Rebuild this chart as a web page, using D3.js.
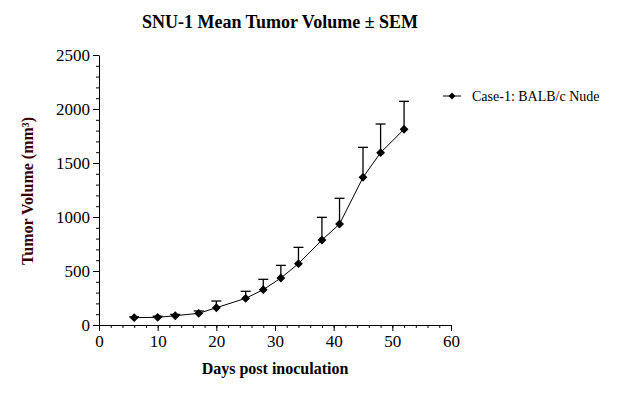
<!DOCTYPE html>
<html>
<head>
<meta charset="utf-8">
<script src="https://cdn.jsdelivr.net/npm/d3@7"></script>
<style>
  body { margin: 0; background: #fff; }
  text { font-family: "Liberation Serif", "Times New Roman", serif; }
</style>
</head>
<body>
<div id="chart"></div>
<script>
// data
var days = [6, 10, 13, 17, 20, 25, 28, 31, 34, 38, 41, 45, 48, 52];
var meanVol = [68, 71, 86, 108, 160, 247, 327, 435, 568, 787, 935, 1367, 1596, 1812];
var semVol = [8, 10, 12, 22, 62, 65, 96, 117, 151, 210, 238, 278, 265, 259];
var seriesName = 'Case-1: BALB/c Nude';
var xTicks = [0, 10, 20, 30, 40, 50, 60];
var yTicks = [0, 500, 1000, 1500, 2000, 2500];

var width = 617, height = 411;
var plot = {left: 99, right: 451, top: 55, bottom: 325};

var svg = d3.select('#chart')
    .append('svg')
    .attr('width', width)
    .attr('height', height);

var x = d3.scaleLinear().domain([0, 60]).range([plot.left, plot.right]);
var y = d3.scaleLinear().domain([0, 2500]).range([plot.bottom, plot.top]);

// title
svg.append('text')
    .attr('x', 280)
    .attr('y', 28)
    .attr('text-anchor', 'middle')
    .style('font-size', '18px')
    .style('font-weight', 'bold')
    .text('SNU-1 Mean Tumor Volume \u00b1 SEM');

// minor ticks first, then the major axis on top
svg.append('g')
    .attr('transform', 'translate(0,' + plot.bottom + ')')
    .call(d3.axisBottom(x).tickValues(d3.range(0, 61, 2)).tickSize(3).tickFormat(''))
    .call(function(g) { g.select('.domain').remove(); });
svg.append('g')
    .attr('transform', 'translate(' + plot.left + ',0)')
    .call(d3.axisLeft(y).tickValues(d3.range(0, 2501, 100)).tickSize(3).tickFormat(''))
    .call(function(g) { g.select('.domain').remove(); });

var xAxis = svg.append('g')
    .attr('transform', 'translate(0,' + plot.bottom + ')')
    .call(d3.axisBottom(x).tickValues(xTicks).tickFormat(d3.format('d'))
        .tickSize(6).tickSizeOuter(0).tickPadding(4));
var yAxis = svg.append('g')
    .attr('transform', 'translate(' + plot.left + ',0)')
    .call(d3.axisLeft(y).tickValues(yTicks).tickFormat(d3.format('d'))
        .tickSize(6).tickSizeOuter(0).tickPadding(3));

svg.selectAll('.tick line, .domain').attr('stroke', '#000').attr('stroke-width', 1);
[xAxis, yAxis].forEach(function(a) {
    a.selectAll('text')
        .attr('fill', '#000')
        .style('font-size', '17px')
        .style('font-family', '"Liberation Serif", "Times New Roman", serif');
});

// axis titles
svg.append('text')
    .attr('x', 275)
    .attr('y', 374)
    .attr('text-anchor', 'middle')
    .style('font-size', '16px')
    .style('font-weight', 'bold')
    .text('Days post inoculation');

svg.append('text')
    .attr('transform', 'translate(33,191) rotate(-90)')
    .attr('text-anchor', 'middle')
    .style('font-size', '16px')
    .style('font-weight', 'bold')
    .style('fill', '#3a0000')
    .text('Tumor Volume (mm\u00b3)');

// error bars (upper only)
var pts = days.map(function(d, i) { return {day: d, mean: meanVol[i], sem: semVol[i]}; });
var err = svg.append('g').attr('stroke', '#000').attr('stroke-width', 1.3);
err.selectAll('line.v').data(pts).enter().append('line')
    .attr('x1', function(d) { return x(d.day); })
    .attr('x2', function(d) { return x(d.day); })
    .attr('y1', function(d) { return y(d.mean); })
    .attr('y2', function(d) { return y(d.mean + d.sem); });
err.selectAll('line.c').data(pts).enter().append('line')
    .attr('x1', function(d) { return x(d.day) - 5; })
    .attr('x2', function(d) { return x(d.day) + 5; })
    .attr('y1', function(d) { return y(d.mean + d.sem); })
    .attr('y2', function(d) { return y(d.mean + d.sem); });

// mean line
svg.append('path')
    .datum(pts)
    .attr('fill', 'none')
    .attr('stroke', '#000')
    .attr('stroke-width', 1)
    .attr('d', d3.line().x(function(d) { return x(d.day); }).y(function(d) { return y(d.mean); }));

var diamond = d3.symbol().type(d3.symbolDiamond2).size(50);
svg.selectAll('path.pt').data(pts).enter().append('path')
    .attr('class', 'pt')
    .attr('transform', function(d) { return 'translate(' + x(d.day) + ',' + y(d.mean) + ')'; })
    .attr('d', diamond)
    .attr('fill', '#000');

// legend
var lg = svg.append('g').attr('transform', 'translate(443,96)');
lg.append('line').attr('x1', 0).attr('x2', 18).attr('y1', 0).attr('y2', 0)
    .attr('stroke', '#000').attr('stroke-width', 1);
lg.append('path').attr('transform', 'translate(9,0)')
    .attr('d', d3.symbol().type(d3.symbolDiamond2).size(30)).attr('fill', '#000');
lg.append('text')
    .attr('x', 29)
    .attr('y', 5)
    .style('font-size', '14px')
    .text(seriesName);
</script>
</body>
</html>
